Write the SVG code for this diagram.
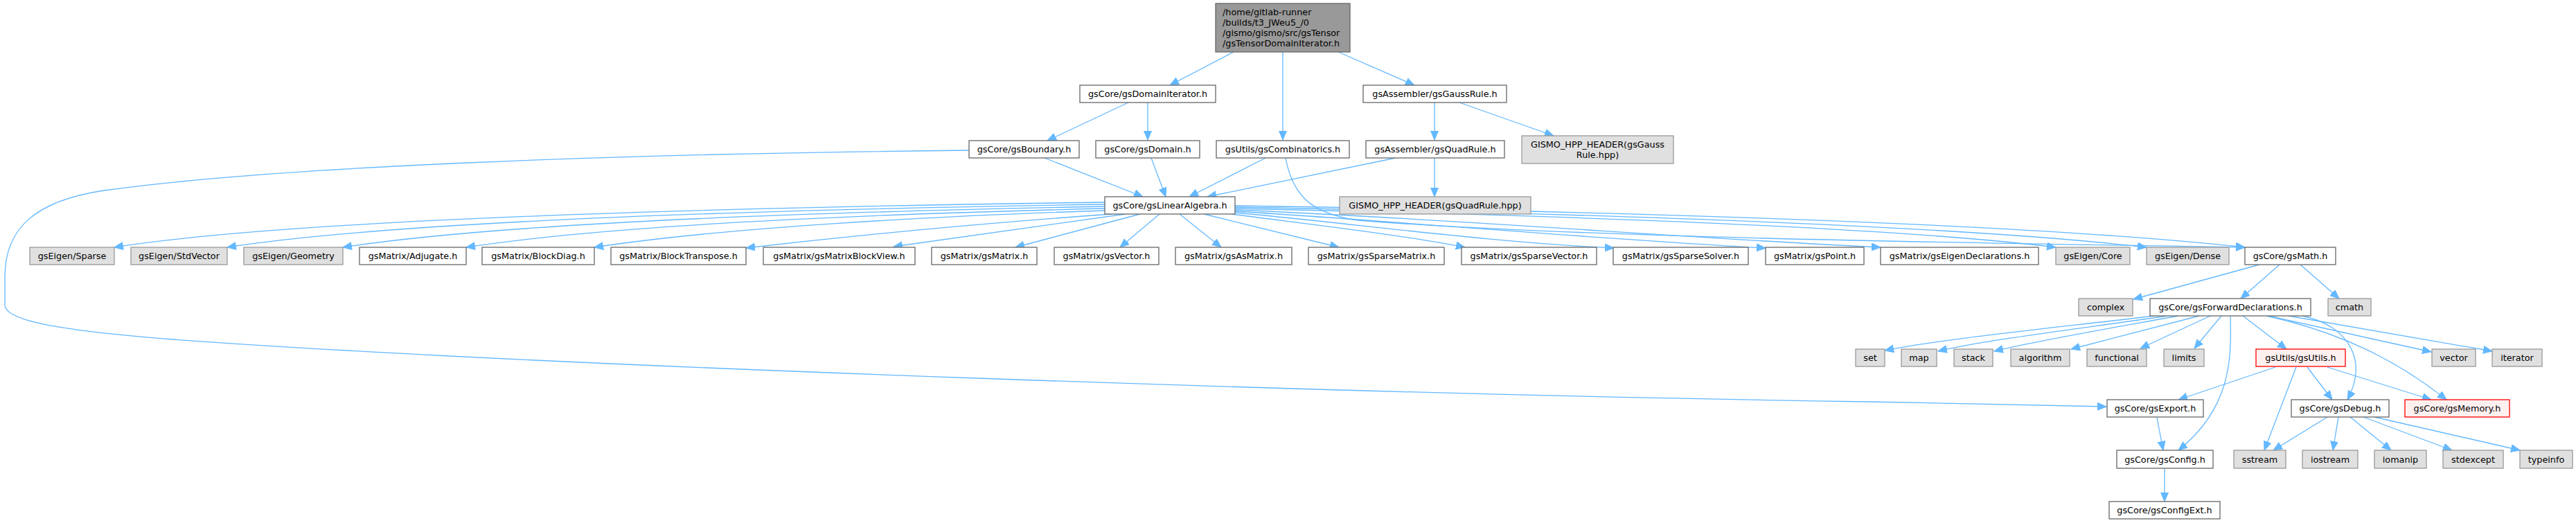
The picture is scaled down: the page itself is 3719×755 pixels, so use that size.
<svg xmlns="http://www.w3.org/2000/svg" width="3719" height="755" viewBox="0 0 3719 755">
<style>
.n rect{fill:#ffffff;stroke:#666666;stroke-width:1.3}
.g rect{fill:#e0e0e0;stroke:#999999;stroke-width:1.3}
.r rect{fill:#fff0f0;stroke:#ff0000;stroke-width:1.3}
.root rect{fill:#999999;stroke:#666666;stroke-width:1.3}
text{font-family:"DejaVu Sans","Liberation Sans",sans-serif;font-size:12.8px;fill:#000000;text-anchor:middle}
.root text{text-anchor:start}
#edges path{fill:none;stroke:#63b8ff;stroke-width:1.3;marker-end:url(#a)}
</style>
<defs>
<marker id="a" markerUnits="userSpaceOnUse" markerWidth="14" markerHeight="12" refX="13" refY="5.5" orient="auto">
<path d="M0,0L13,5.5L0,11z" fill="#63b8ff" stroke="#63b8ff" stroke-width="1"/>
</marker>
</defs>
<rect width="3719" height="755" fill="#ffffff"/>
<g id="edges">
<path d="M1781,75L1689,123"/>
<path d="M1852,75L1852,202"/>
<path d="M1932,75L2042,123"/>
<path d="M1629,148L1512,203"/>
<path d="M1657,148L1657,202"/>
<path d="M2071,148L2071,202"/>
<path d="M2107,148L2243,196"/>
<path d="M1508,228L1650,284"/>
<path d="M1662,228L1683,284"/>
<path d="M1827,228L1717,284"/>
<path d="M2015,228L1743,284"/>
<path d="M2071,228L2071,284"/>
<path d="M1399,217C900,222 400,240 150,275C50,290 7,330 7,400L7,440C7,465 100,478 250,490C800,530 2000,570 2700,580L3041,587"/>
<path d="M1856,228C1866,280 1890,308 1960,318C2300,345 2950,352 3241,357"/>
<path d="M1595,292C1150,298 450,312 165,357"/>
<path d="M1595,295C1200,301 600,315 328,357"/>
<path d="M1595,298C1250,305 750,318 495,357"/>
<path d="M1595,301C1300,308 900,322 673,357"/>
<path d="M1595,304C1350,312 1050,328 858,357"/>
<path d="M1605,309C1450,320 1250,338 1077,358"/>
<path d="M1625,309L1290,356"/>
<path d="M1646,309L1466,357"/>
<path d="M1674,309L1617,357"/>
<path d="M1703,309L1763,357"/>
<path d="M1738,309L1933,357"/>
<path d="M1778,309C1900,325 2030,340 2115,357"/>
<path d="M1783,307C1950,322 2150,350 2330,358"/>
<path d="M1783,305C2000,318 2300,345 2549,358"/>
<path d="M1783,303C2100,316 2450,345 2715,357"/>
<path d="M1783,301C2300,312 2750,330 2968,357"/>
<path d="M1783,299C2350,309 2850,328 3099,357"/>
<path d="M1783,297C2400,306 2950,325 3241,357"/>
<path d="M3262,382L3080,432"/>
<path d="M3291,382L3235,431"/>
<path d="M3321,382L3377,431"/>
<path d="M3110,456C2950,475 2800,490 2721,506"/>
<path d="M3129,456C3000,475 2870,490 2798,507"/>
<path d="M3145,456C3040,475 2940,492 2879,507"/>
<path d="M3175,456L2990,504"/>
<path d="M3191,456L3090,503"/>
<path d="M3207,456L3168,503"/>
<path d="M3220,456C3222,520 3220,590 3145,650"/>
<path d="M3238,456L3301,504"/>
<path d="M3272,456C3380,480 3460,520 3532,577"/>
<path d="M3275,456L3510,508"/>
<path d="M3304,456L3598,507"/>
<path d="M3324,456C3390,470 3420,520 3389,577"/>
<path d="M3285,530L3145,577"/>
<path d="M3315,530L3269,650"/>
<path d="M3331,530L3367,577"/>
<path d="M3360,530L3510,577"/>
<path d="M3360,602L3282,650"/>
<path d="M3376,602L3368,650"/>
<path d="M3393,602L3452,650"/>
<path d="M3412,602L3540,650"/>
<path d="M3428,602L3638,650"/>
<path d="M3114,603L3123,650"/>
<path d="M3125,676L3125,724"/>
</g>
<g id="root" class="root"><rect x="1755" y="5" width="194" height="70"/><text x="1765" y="21.5">/home/gitlab-runner</text><text x="1765" y="36.5">/builds/t3_JWeu5_/0</text><text x="1765" y="51.5">/gismo/gismo/src/gsTensor</text><text x="1765" y="66.5">/gsTensorDomainIterator.h</text></g>
<g id="gsDomainIterator" class="n"><rect x="1559" y="123" width="196" height="25"/><text x="1657" y="140">gsCore/gsDomainIterator.h</text></g>
<g id="gsGaussRule" class="n"><rect x="1968" y="123" width="207" height="25"/><text x="2071.5" y="140">gsAssembler/gsGaussRule.h</text></g>
<g id="gsBoundary" class="n"><rect x="1399" y="203" width="159" height="25"/><text x="1478.5" y="220">gsCore/gsBoundary.h</text></g>
<g id="gsDomain" class="n"><rect x="1582" y="203" width="150" height="25"/><text x="1657" y="220">gsCore/gsDomain.h</text></g>
<g id="gsCombinatorics" class="n"><rect x="1756" y="203" width="192" height="25"/><text x="1852" y="220">gsUtils/gsCombinatorics.h</text></g>
<g id="gsQuadRule" class="n"><rect x="1972" y="203" width="200" height="25"/><text x="2072" y="220">gsAssembler/gsQuadRule.h</text></g>
<g id="gismoGauss" class="g"><rect x="2197" y="196" width="219" height="40"/><text x="2306.5" y="212.5">GISMO_HPP_HEADER(gsGauss</text><text x="2306.5" y="227.5">Rule.hpp)</text></g>
<g id="gsLinearAlgebra" class="n"><rect x="1595" y="284" width="188" height="25"/><text x="1689" y="301">gsCore/gsLinearAlgebra.h</text></g>
<g id="gismoQuad" class="g"><rect x="1934" y="284" width="276" height="25"/><text x="2072" y="301">GISMO_HPP_HEADER(gsQuadRule.hpp)</text></g>
<g id="eigenSparse" class="g"><rect x="43" y="357" width="122" height="25"/><text x="104" y="374">gsEigen/Sparse</text></g>
<g id="eigenStdVector" class="g"><rect x="189" y="357" width="139" height="25"/><text x="258.5" y="374">gsEigen/StdVector</text></g>
<g id="eigenGeometry" class="g"><rect x="352" y="357" width="143" height="25"/><text x="423.5" y="374">gsEigen/Geometry</text></g>
<g id="adjugate" class="n"><rect x="519" y="357" width="154" height="25"/><text x="596" y="374">gsMatrix/Adjugate.h</text></g>
<g id="blockDiag" class="n"><rect x="696" y="357" width="162" height="25"/><text x="777" y="374">gsMatrix/BlockDiag.h</text></g>
<g id="blockTranspose" class="n"><rect x="882" y="357" width="195" height="25"/><text x="979.5" y="374">gsMatrix/BlockTranspose.h</text></g>
<g id="blockView" class="n"><rect x="1102" y="357" width="219" height="25"/><text x="1211.5" y="374">gsMatrix/gsMatrixBlockView.h</text></g>
<g id="gsMatrix" class="n"><rect x="1345" y="357" width="152" height="25"/><text x="1421" y="374">gsMatrix/gsMatrix.h</text></g>
<g id="gsVector" class="n"><rect x="1522" y="357" width="151" height="25"/><text x="1597.5" y="374">gsMatrix/gsVector.h</text></g>
<g id="gsAsMatrix" class="n"><rect x="1697" y="357" width="168" height="25"/><text x="1781" y="374">gsMatrix/gsAsMatrix.h</text></g>
<g id="gsSparseMatrix" class="n"><rect x="1889" y="357" width="196" height="25"/><text x="1987" y="374">gsMatrix/gsSparseMatrix.h</text></g>
<g id="gsSparseVector" class="n"><rect x="2110" y="357" width="195" height="25"/><text x="2207.5" y="374">gsMatrix/gsSparseVector.h</text></g>
<g id="gsSparseSolver" class="n"><rect x="2329" y="357" width="195" height="25"/><text x="2426.5" y="374">gsMatrix/gsSparseSolver.h</text></g>
<g id="gsPoint" class="n"><rect x="2549" y="357" width="142" height="25"/><text x="2620" y="374">gsMatrix/gsPoint.h</text></g>
<g id="gsEigenDeclarations" class="n"><rect x="2715" y="357" width="228" height="25"/><text x="2829" y="374">gsMatrix/gsEigenDeclarations.h</text></g>
<g id="eigenCore" class="g"><rect x="2968" y="357" width="107" height="25"/><text x="3021.5" y="374">gsEigen/Core</text></g>
<g id="eigenDense" class="g"><rect x="3099" y="357" width="119" height="25"/><text x="3158.5" y="374">gsEigen/Dense</text></g>
<g id="gsMath" class="n"><rect x="3241" y="357" width="131" height="25"/><text x="3306.5" y="374">gsCore/gsMath.h</text></g>
<g id="complex" class="g"><rect x="3001" y="431" width="78" height="25"/><text x="3040" y="448">complex</text></g>
<g id="gsForwardDeclarations" class="n"><rect x="3104" y="431" width="232" height="25"/><text x="3220" y="448">gsCore/gsForwardDeclarations.h</text></g>
<g id="cmath" class="g"><rect x="3361" y="431" width="62" height="25"/><text x="3392" y="448">cmath</text></g>
<g id="set" class="g"><rect x="2679" y="504" width="42" height="25"/><text x="2700" y="521">set</text></g>
<g id="map" class="g"><rect x="2745" y="504" width="51" height="25"/><text x="2770.5" y="521">map</text></g>
<g id="stack" class="g"><rect x="2821" y="504" width="56" height="25"/><text x="2849" y="521">stack</text></g>
<g id="algorithm" class="g"><rect x="2903" y="504" width="85" height="25"/><text x="2945.5" y="521">algorithm</text></g>
<g id="functional" class="g"><rect x="3013" y="504" width="86" height="25"/><text x="3056" y="521">functional</text></g>
<g id="limits" class="g"><rect x="3124" y="504" width="58" height="25"/><text x="3153" y="521">limits</text></g>
<g id="gsUtils" class="r"><rect x="3257" y="504" width="129" height="25"/><text x="3321.5" y="521">gsUtils/gsUtils.h</text></g>
<g id="vector" class="g"><rect x="3511" y="504" width="63" height="25"/><text x="3542.5" y="521">vector</text></g>
<g id="iterator" class="g"><rect x="3598" y="504" width="72" height="25"/><text x="3634" y="521">iterator</text></g>
<g id="gsExport" class="n"><rect x="3042" y="577" width="139" height="25"/><text x="3111.5" y="594">gsCore/gsExport.h</text></g>
<g id="gsDebug" class="n"><rect x="3308" y="577" width="141" height="25"/><text x="3378.5" y="594">gsCore/gsDebug.h</text></g>
<g id="gsMemory" class="r"><rect x="3472" y="577" width="151" height="25"/><text x="3547.5" y="594">gsCore/gsMemory.h</text></g>
<g id="gsConfig" class="n"><rect x="3056" y="650" width="139" height="26"/><text x="3125.5" y="667.5">gsCore/gsConfig.h</text></g>
<g id="sstream" class="g"><rect x="3225" y="650" width="75" height="26"/><text x="3262.5" y="667.5">sstream</text></g>
<g id="iostream" class="g"><rect x="3324" y="650" width="80" height="26"/><text x="3364" y="667.5">iostream</text></g>
<g id="iomanip" class="g"><rect x="3428" y="650" width="75" height="26"/><text x="3465.5" y="667.5">iomanip</text></g>
<g id="stdexcept" class="g"><rect x="3527" y="650" width="87" height="26"/><text x="3570.5" y="667.5">stdexcept</text></g>
<g id="typeinfo" class="g"><rect x="3638" y="650" width="76" height="26"/><text x="3676" y="667.5">typeinfo</text></g>
<g id="gsConfigExt" class="n"><rect x="3045" y="724" width="160" height="25"/><text x="3125" y="741">gsCore/gsConfigExt.h</text></g>
</svg>
